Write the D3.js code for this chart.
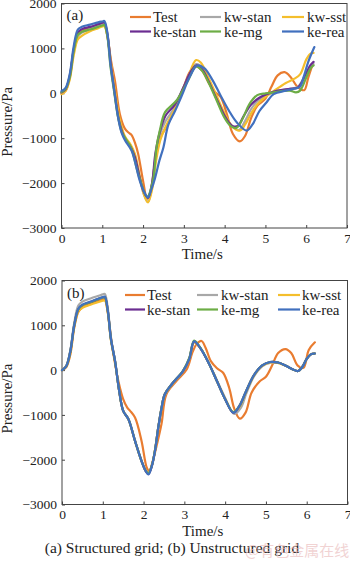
<!DOCTYPE html>
<html>
<head>
<meta charset="utf-8">
<script src="https://cdn.jsdelivr.net/npm/d3@7"></script>
<style>
  html, body { margin: 0; padding: 0; background: #fff; }
  svg { display: block; font-family: "Liberation Serif", "Times New Roman", serif; }
</style>
</head>
<body>
<div id="chart"></div>
<script>
// series names, colours and tick values
const seriesNames = ['Test', 'kw-stan', 'kw-sst', 'ke-stan', 'ke-mg', 'ke-rea']
const seriesColors = ['#E97C30', '#A8A8A8', '#F4BE2C', '#6B2D91', '#6DAD46', '#4170BE']
const xTicks = [0, 1, 2, 3, 4, 5, 6, 7]
const yTicks = [-3000, -2000, -1000, 0, 1000, 2000]
const captionText = '(a) Structured grid; (b) Unstructured grid'

// (a) structured grid: [time s, pressure Pa]
const testA = [[0,0],[0.1,60],[0.2,350],[0.3,950],[0.4,1280],[0.5,1390],[0.7,1450],[0.9,1510],[1.0,1540],[1.05,1550],[1.12,1300],[1.22,700],[1.31,280],[1.43,-460],[1.55,-780],[1.65,-880],[1.72,-930],[1.8,-1100],[1.88,-1350],[2.0,-1950],[2.1,-2350],[2.18,-2200],[2.3,-1500],[2.42,-1000],[2.6,-700],[2.8,-300],[3.0,150],[3.15,480],[3.3,600],[3.45,500],[3.6,250],[3.75,40],[3.9,-80],[4.05,-450],[4.2,-900],[4.37,-1070],[4.5,-950],[4.65,-550],[4.8,-280],[5.0,-120],[5.15,150],[5.3,400],[5.47,470],[5.62,360],[5.78,150],[5.95,70],[6.05,350],[6.16,650]]
const kwstanA = [[0,0],[0.1,70],[0.2,330],[0.3,900],[0.4,1270],[0.5,1350],[0.7,1430],[0.9,1500],[1.0,1530],[1.05,1540],[1.12,1320],[1.22,600],[1.32,-50],[1.42,-600],[1.55,-980],[1.7,-1180],[1.8,-1400],[1.92,-1900],[2.02,-2250],[2.12,-2420],[2.22,-2050],[2.32,-1300],[2.42,-900],[2.55,-620],[2.75,-350],[2.95,30],[3.1,350],[3.3,650],[3.45,580],[3.6,300],[3.8,-100],[4.0,-480],[4.2,-750],[4.35,-820],[4.5,-620],[4.65,-350],[4.8,-180],[5.0,-60],[5.3,50],[5.6,100],[5.8,150],[6.0,450],[6.18,650]]
const kwsstA = [[0,-20],[0.1,50],[0.2,300],[0.3,850],[0.4,1200],[0.5,1280],[0.7,1380],[0.9,1450],[1.0,1490],[1.05,1500],[1.12,1300],[1.22,600],[1.32,0],[1.42,-550],[1.55,-950],[1.7,-1150],[1.8,-1350],[1.92,-1850],[2.02,-2250],[2.12,-2430],[2.22,-2150],[2.32,-1500],[2.42,-1050],[2.55,-750],[2.75,-400],[2.95,0],[3.1,350],[3.3,740],[3.42,680],[3.6,350],[3.8,-50],[4.0,-450],[4.2,-750],[4.37,-830],[4.5,-700],[4.65,-450],[4.8,-250],[5.0,-80],[5.2,50],[5.5,230],[5.7,320],[5.85,420],[6.0,750],[6.1,880],[6.18,900]]
const kestanA = [[0,20],[0.1,90],[0.2,380],[0.3,980],[0.4,1350],[0.5,1430],[0.7,1480],[0.9,1540],[1.0,1570],[1.05,1580],[1.12,1350],[1.22,550],[1.32,-100],[1.42,-650],[1.55,-1000],[1.7,-1200],[1.8,-1420],[1.92,-1880],[2.02,-2200],[2.12,-2330],[2.22,-2000],[2.3,-1350],[2.4,-900],[2.55,-500],[2.78,-250],[3.0,150],[3.15,450],[3.3,620],[3.45,530],[3.6,280],[3.8,-120],[4.0,-500],[4.18,-720],[4.32,-730],[4.47,-500],[4.65,-250],[4.85,-100],[5.0,-30],[5.3,60],[5.6,100],[5.8,130],[6.0,450],[6.1,620],[6.18,700]]
const kemgA = [[0,30],[0.1,100],[0.2,350],[0.3,950],[0.4,1300],[0.5,1370],[0.7,1420],[0.9,1480],[1.0,1510],[1.05,1520],[1.12,1300],[1.2,600],[1.28,100],[1.38,-500],[1.48,-870],[1.57,-1010],[1.7,-1200],[1.9,-1850],[2.1,-2300],[2.24,-1950],[2.33,-1200],[2.41,-830],[2.54,-420],[2.82,-160],[3.1,280],[3.3,600],[3.45,500],[3.6,250],[3.8,-150],[4.0,-550],[4.15,-730],[4.29,-770],[4.45,-550],[4.6,-250],[4.8,-40],[5.0,0],[5.2,20],[5.4,50],[5.6,60],[5.75,20],[5.85,60],[6.0,350],[6.1,550],[6.18,620]]
const kereaA = [[0,50],[0.1,120],[0.2,420],[0.3,1050],[0.4,1420],[0.5,1480],[0.7,1530],[0.9,1580],[1.0,1600],[1.05,1610],[1.12,1380],[1.2,650],[1.28,150],[1.38,-500],[1.47,-870],[1.56,-1050],[1.72,-1280],[1.92,-1950],[2.03,-2200],[2.12,-2320],[2.2,-2150],[2.29,-1900],[2.4,-1500],[2.5,-1200],[2.62,-700],[2.78,-400],[2.95,-50],[3.15,380],[3.33,620],[3.5,560],[3.7,300],[3.9,-50],[4.1,-380],[4.3,-650],[4.54,-830],[4.68,-700],[4.85,-400],[5.03,-200],[5.2,-20],[5.5,60],[5.7,100],[5.84,140],[5.95,400],[6.05,700],[6.2,1030]]

// (b) unstructured grid
const testB = [[0,0],[0.1,60],[0.2,330],[0.3,950],[0.4,1300],[0.5,1400],[0.7,1480],[0.9,1540],[1.0,1570],[1.05,1580],[1.12,1300],[1.22,600],[1.3,150],[1.38,-240],[1.5,-650],[1.6,-840],[1.67,-910],[1.79,-1060],[1.95,-1580],[2.08,-2180],[2.14,-2250],[2.22,-2050],[2.33,-1650],[2.44,-1200],[2.56,-540],[2.81,-240],[3.06,20],[3.2,400],[3.3,580],[3.42,650],[3.52,500],[3.65,200],[3.8,40],[3.95,-60],[4.1,-400],[4.22,-850],[4.36,-1085],[4.5,-950],[4.65,-500],[4.85,-250],[5.0,-150],[5.15,100],[5.3,380],[5.48,470],[5.62,380],[5.78,100],[5.92,50],[6.05,450],[6.2,620]]
const kwstanB = [[0,0],[0.1,90],[0.2,420],[0.3,1050],[0.4,1440],[0.5,1530],[0.7,1600],[0.9,1660],[1.0,1690],[1.05,1700],[1.12,1400],[1.2,720],[1.3,210],[1.4,-450],[1.5,-900],[1.63,-1090],[1.79,-1570],[1.95,-2020],[2.05,-2240],[2.12,-2310],[2.2,-2150],[2.28,-1800],[2.36,-1290],[2.44,-860],[2.52,-560],[2.69,-330],[2.97,-30],[3.12,240],[3.24,620],[3.4,480],[3.6,160],[3.8,-230],[4.0,-620],[4.22,-980],[4.38,-850],[4.52,-520],[4.7,-150],[4.9,80],[5.1,160],[5.3,160],[5.5,90],[5.65,20],[5.79,-20],[5.9,80],[6.0,250],[6.1,350],[6.2,370]]
const kwsstB = [[0,0],[0.1,70],[0.2,360],[0.3,960],[0.4,1310],[0.5,1390],[0.7,1460],[0.9,1520],[1.0,1550],[1.05,1560],[1.12,1300],[1.2,660],[1.3,190],[1.4,-460],[1.5,-910],[1.63,-1100],[1.79,-1580],[1.95,-2030],[2.05,-2240],[2.12,-2300],[2.2,-2140],[2.28,-1790],[2.36,-1280],[2.44,-850],[2.52,-540],[2.69,-320],[2.97,-20],[3.12,250],[3.24,620],[3.4,480],[3.6,150],[3.8,-250],[4.0,-640],[4.2,-940],[4.36,-810],[4.5,-510],[4.7,-130],[4.9,90],[5.1,170],[5.3,160],[5.5,90],[5.65,20],[5.79,-20],[5.9,80],[6.0,250],[6.1,350],[6.2,370]]
const kestanB = [[0,0],[0.1,80],[0.2,400],[0.3,1000],[0.4,1360],[0.5,1450],[0.7,1520],[0.9,1590],[1.0,1620],[1.05,1630],[1.12,1340],[1.2,690],[1.3,200],[1.4,-450],[1.5,-910],[1.63,-1100],[1.79,-1580],[1.95,-2030],[2.05,-2250],[2.12,-2320],[2.2,-2150],[2.28,-1800],[2.36,-1285],[2.44,-850],[2.52,-540],[2.69,-315],[2.97,-15],[3.12,250],[3.24,640],[3.4,480],[3.6,150],[3.8,-250],[4.0,-650],[4.2,-950],[4.35,-800],[4.5,-500],[4.7,-120],[4.9,100],[5.1,180],[5.3,170],[5.5,90],[5.65,20],[5.79,-20],[5.9,80],[6.0,250],[6.1,350],[6.2,370]]
const kemgB = [[0,0],[0.1,80],[0.2,400],[0.3,1000],[0.4,1360],[0.5,1450],[0.7,1520],[0.9,1590],[1.0,1620],[1.05,1630],[1.12,1340],[1.2,690],[1.3,200],[1.4,-450],[1.5,-910],[1.63,-1100],[1.79,-1580],[1.95,-2030],[2.05,-2240],[2.12,-2300],[2.2,-2140],[2.28,-1790],[2.36,-1280],[2.44,-850],[2.52,-540],[2.69,-315],[2.97,-10],[3.12,270],[3.24,660],[3.4,490],[3.6,150],[3.8,-250],[4.0,-650],[4.2,-940],[4.35,-800],[4.5,-500],[4.7,-120],[4.9,100],[5.1,180],[5.3,170],[5.5,90],[5.65,20],[5.79,-20],[5.9,80],[6.0,250],[6.1,350],[6.2,370]]
const kereaB = [[0,0],[0.1,80],[0.2,400],[0.3,1000],[0.4,1370],[0.5,1460],[0.7,1530],[0.9,1600],[1.0,1630],[1.05,1640],[1.12,1350],[1.2,700],[1.3,210],[1.4,-450],[1.5,-910],[1.63,-1100],[1.79,-1580],[1.95,-2030],[2.05,-2250],[2.12,-2330],[2.2,-2150],[2.28,-1800],[2.36,-1285],[2.44,-850],[2.52,-540],[2.69,-315],[2.97,-15],[3.12,250],[3.24,640],[3.4,480],[3.6,150],[3.8,-250],[4.0,-650],[4.2,-950],[4.35,-800],[4.5,-500],[4.7,-120],[4.9,100],[5.1,180],[5.3,170],[5.5,90],[5.65,20],[5.79,-20],[5.9,80],[6.0,250],[6.1,350],[6.2,370]]

const width = 350
const height = 562

const panels = [
  {
    label: '(a)', series: [testA, kwstanA, kwsstA, kestanA, kemgA, kereaA],
    left: 61.5, right: 347, top: 3.5, bottom: 228,
    legendRows: [22, 36.5], legendLines: [[130, 151], [200, 221], [282, 304]], legendText: [153, 224, 307]
  },
  {
    label: '(b)', series: [testB, kwstanB, kwsstB, kestanB, kemgB, kereaB],
    left: 62, right: 347.5, top: 280.5, bottom: 504.5,
    legendRows: [300, 314.5], legendLines: [[125, 145], [197, 218], [278, 300]], legendText: [147, 221, 302]
  }
]

const svg = d3.select('#chart')
  .append('svg')
  .attr('width', width)
  .attr('height', height)
  .attr('viewBox', [0, 0, width, height].join(' '))

panels.forEach(panel => {
  const x = d3.scaleLinear().domain([0, 7]).range([panel.left, panel.right])
  const y = d3.scaleLinear().domain([-3000, 2000]).range([panel.bottom, panel.top])

  const g = svg.append('g').attr('class', 'panel')

  // frame
  g.append('rect')
    .attr('x', panel.left)
    .attr('y', panel.top)
    .attr('width', panel.right - panel.left)
    .attr('height', panel.bottom - panel.top)
    .attr('fill', 'none')
    .attr('stroke', '#444')
    .attr('stroke-width', 1)

  // X axis, ticks pointing inward
  g.append('g')
    .attr('transform', `translate(0,${panel.bottom})`)
    .call(d3.axisBottom(x).tickValues(xTicks).tickSize(-3).tickPadding(5).tickFormat(d3.format('d')))
    .call(a => a.select('.domain').remove())
    .call(a => a.selectAll('line').attr('stroke', '#444'))
    .call(a => a.selectAll('text')
      .attr('font-family', '"Liberation Serif", serif')
      .attr('font-size', 13.5)
      .attr('fill', '#222'))

  // Y axis
  g.append('g')
    .attr('transform', `translate(${panel.left},0)`)
    .call(d3.axisLeft(y).tickValues(yTicks).tickSize(-3).tickPadding(5).tickFormat(d3.format('d')))
    .call(a => a.select('.domain').remove())
    .call(a => a.selectAll('line').attr('stroke', '#444'))
    .call(a => a.selectAll('text')
      .attr('font-family', '"Liberation Serif", serif')
      .attr('font-size', 13.5)
      .attr('fill', '#222'))

  // axis titles
  g.append('text')
    .attr('x', (panel.left + panel.right) / 2 - 2)
    .attr('y', panel.bottom + 31)
    .attr('text-anchor', 'middle')
    .attr('font-size', 15)
    .attr('fill', '#222')
    .text('Time/s')

  g.append('text')
    .attr('transform', `translate(12,${(panel.top + panel.bottom) / 2 + 6}) rotate(-90)`)
    .attr('text-anchor', 'middle')
    .attr('font-size', 15)
    .attr('fill', '#222')
    .text('Pressure/Pa')

  // curves
  const line = d3.line()
    .x(d => x(d[0]))
    .y(d => y(d[1]))
    .curve(d3.curveCatmullRom.alpha(0.5))

  g.append('g')
    .attr('class', 'lines')
    .selectAll('path')
    .data(panel.series)
    .join('path')
    .attr('d', line)
    .attr('fill', 'none')
    .attr('stroke', (d, i) => seriesColors[i])
    .attr('stroke-width', 2.2)
    .attr('stroke-linejoin', 'round')
    .attr('stroke-linecap', 'round')

  // panel label
  g.append('text')
    .attr('x', panel.left + 5)
    .attr('y', panel.legendRows[0] - 2)
    .attr('font-size', 15)
    .attr('fill', '#222')
    .text(panel.label)

  // legend
  const item = g.append('g')
    .attr('class', 'legend')
    .selectAll('g')
    .data(seriesNames)
    .join('g')

  item.append('line')
    .attr('x1', (d, i) => panel.legendLines[i % 3][0])
    .attr('x2', (d, i) => panel.legendLines[i % 3][1])
    .attr('y1', (d, i) => panel.legendRows[Math.floor(i / 3)] - 5)
    .attr('y2', (d, i) => panel.legendRows[Math.floor(i / 3)] - 5)
    .attr('stroke', (d, i) => seriesColors[i])
    .attr('stroke-width', 2.2)

  item.append('text')
    .attr('x', (d, i) => panel.legendText[i % 3])
    .attr('y', (d, i) => panel.legendRows[Math.floor(i / 3)])
    .attr('font-size', 15)
    .attr('fill', '#222')
    .text(d => d)
})

svg.append('text')
  .attr('x', 172)
  .attr('y', 553)
  .attr('text-anchor', 'middle')
  .attr('font-size', 15.5)
  .attr('fill', '#222')
  .text(captionText)

svg.append('text')
  .attr('x', 245)
  .attr('y', 556)
  .attr('font-family', '"Noto Sans CJK SC", sans-serif')
  .attr('font-size', 15)
  .attr('fill', '#e9b7b7')
  .attr('opacity', 0.6)
  .text('@有色金属在线')
</script>
</body>
</html>
